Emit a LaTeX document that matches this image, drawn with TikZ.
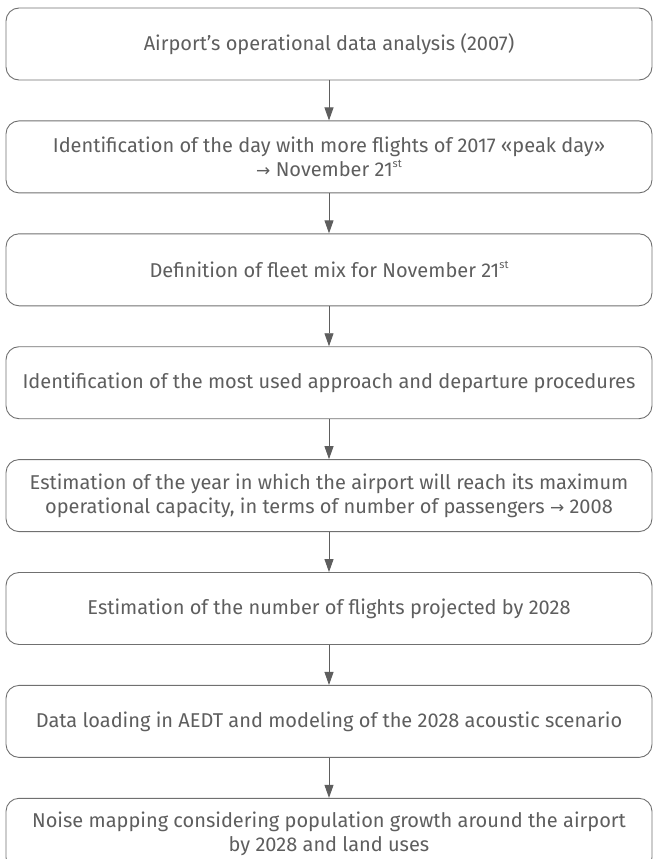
\documentclass[tikz,border=0pt]{standalone}
\usepackage{fontspec}
\setmainfont{Fira Sans}
\newfontfamily\arrowfont{DejaVu Sans}
\usetikzlibrary{positioning,arrows.meta}
\definecolor{boxgray}{HTML}{707070}
\definecolor{textgray}{HTML}{5E5E5E}
\newcommand{\ordsup}[1]{\raisebox{0.85ex}{\fontsize{11}{11}\selectfont #1}}
\newcommand{\yieldsto}{{\arrowfont\fontsize{17}{20}\selectfont →}}
\begin{document}
\begin{tikzpicture}[
            x=1pt, y=1pt,
            node distance=40pt,
            stage/.style={draw=boxgray, line width=0.9pt, rounded corners=13pt,
                minimum width=646pt, minimum height=72pt, align=center,
                text=textgray, font=\fontsize{20}{24}\selectfont, inner sep=0pt},
            flow/.style={draw=textgray, line width=0.9pt,
                -{Triangle[width=9pt,length=13pt]}}
        ]
            \useasboundingbox (0,0) rectangle (654,-859);

            \node[stage] (data) at (329,-44) {Airport’s operational data analysis (2007)};
            \node[stage, below=of data] (peak) {Identification of the day with more flights of 2017 «peak day»\\
                \yieldsto{} November 21\ordsup{st}};
            \node[stage, below=of peak] (fleet) {Definition of fleet mix for November 21\ordsup{st}};
            \node[stage, below=of fleet] (procs) {Identification of the most used approach and departure procedures};
            \node[stage, below=of procs] (capacity) {Estimation of the year in which the airport will reach its maximum\\
                operational capacity, in terms of number of passengers \yieldsto{} 2008};
            \node[stage, below=of capacity] (flights) {Estimation of the number of flights projected by 2028};
            \node[stage, below=of flights] (aedt) {Data loading in AEDT and modeling of the 2028 acoustic scenario};
            \node[stage, below=of aedt] (noise) {Noise mapping considering population growth around the airport\\
                by 2028 and land uses};

            \foreach \a/\b in {data/peak, peak/fleet, fleet/procs, procs/capacity,
                capacity/flights, flights/aedt, aedt/noise}
                \draw[flow] (\a) -- (\b);

        \end{tikzpicture}
\end{document}
